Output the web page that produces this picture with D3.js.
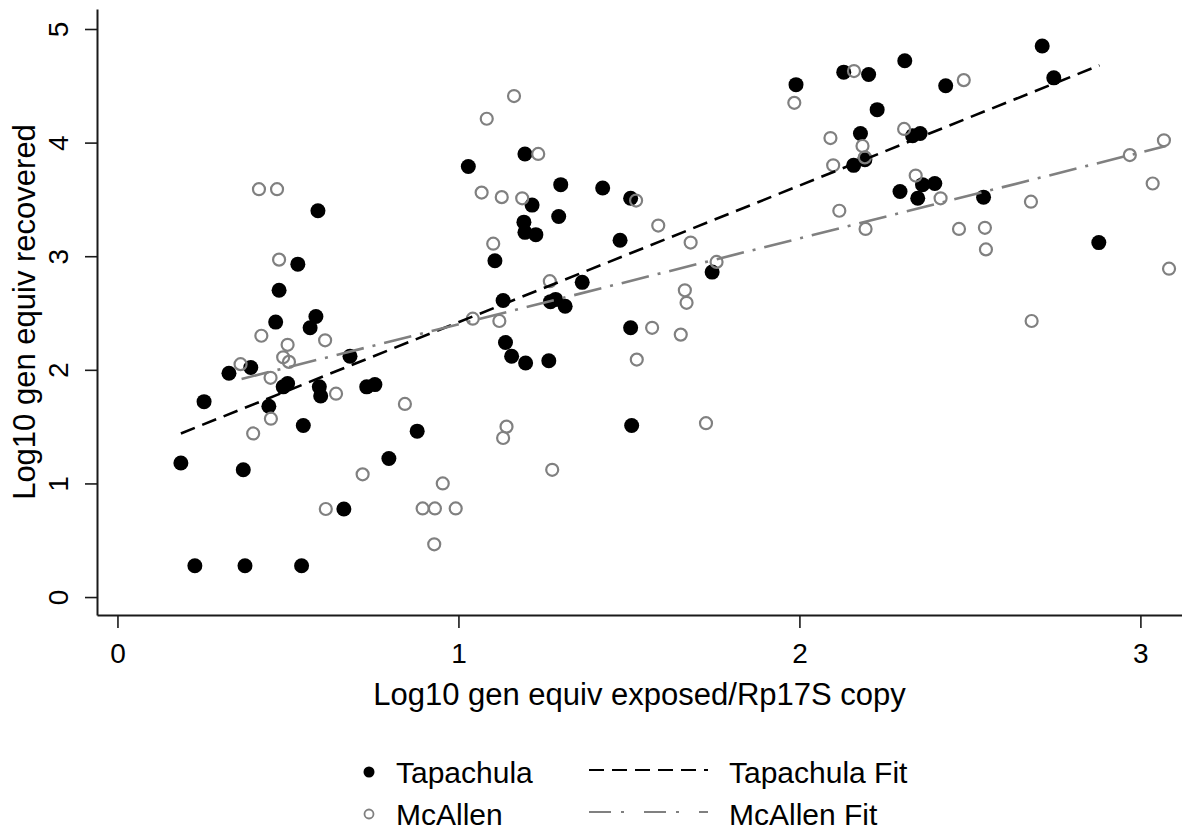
<!DOCTYPE html>
<html>
<head>
<meta charset="utf-8">
<script src="https://cdn.jsdelivr.net/npm/d3@7"></script>
<style>
  body { margin: 0; background: #fff; }
  svg { display: block; font-family: "Liberation Sans", Arial, sans-serif; }
</style>
</head>
<body>
<svg id="chart"></svg>
<script>
// Size of the picture
const width = 1182;
const height = 830;

// Tapachula points: [log10 exposed, log10 recovered]
const tapachula = [
  [0.588, 3.40], [0.529, 2.93], [0.474, 2.70], [0.464, 2.42], [0.582, 2.47],
  [0.565, 2.37], [0.682, 2.12], [0.391, 2.02], [0.327, 1.97], [0.486, 1.85],
  [0.499, 1.88], [0.592, 1.85], [0.596, 1.77], [0.731, 1.85], [0.755, 1.87],
  [0.254, 1.72], [0.444, 1.68], [0.545, 1.51], [0.186, 1.18], [0.369, 1.12],
  [0.796, 1.22], [0.664, 0.775], [0.227, 0.276], [0.374, 0.276], [0.540, 0.276],
  [0.879, 1.46], [1.508, 1.51], [1.505, 2.37], [1.138, 2.24], [1.156, 2.12],
  [1.197, 2.06], [1.265, 2.08], [1.131, 2.61], [1.270, 2.60], [1.285, 2.62],
  [1.313, 2.56], [1.363, 2.77], [1.195, 3.90], [1.029, 3.79], [1.216, 3.45],
  [1.300, 3.63], [1.423, 3.60], [1.505, 3.51], [1.294, 3.35], [1.192, 3.30],
  [1.195, 3.21], [1.227, 3.19], [1.474, 3.14], [1.107, 2.96], [1.744, 2.86],
  [2.712, 4.85], [2.746, 4.57], [2.309, 4.72], [2.130, 4.62], [2.203, 4.60],
  [1.990, 4.51], [2.429, 4.50], [2.228, 4.29], [2.179, 4.08], [2.332, 4.06],
  [2.354, 4.08], [2.192, 3.85], [2.159, 3.80], [2.361, 3.63], [2.397, 3.64],
  [2.295, 3.57], [2.347, 3.51], [2.540, 3.52], [2.878, 3.12]
];

// McAllen points
const mcallen = [
  [0.415, 3.59], [0.468, 3.59], [0.474, 2.97], [0.422, 2.30], [0.609, 2.26],
  [0.499, 2.22], [0.486, 2.11], [0.503, 2.07], [0.361, 2.05], [0.449, 1.93],
  [0.641, 1.79], [0.450, 1.57], [0.398, 1.44], [0.719, 1.08], [0.611, 0.775],
  [0.843, 1.70], [0.954, 1.00], [0.895, 0.78], [0.931, 0.78], [0.992, 0.78],
  [0.929, 0.464], [1.141, 1.50], [1.131, 1.40], [1.275, 1.12], [1.726, 1.53],
  [1.568, 2.37], [1.652, 2.31], [1.523, 2.09], [1.664, 2.70], [1.669, 2.59],
  [1.042, 2.45], [1.120, 2.43], [1.268, 2.78], [1.163, 4.41], [1.083, 4.21],
  [1.234, 3.90], [1.068, 3.56], [1.127, 3.52], [1.187, 3.51], [1.521, 3.49],
  [1.586, 3.27], [1.681, 3.12], [1.102, 3.11], [1.757, 2.95], [2.160, 4.63],
  [1.985, 4.35], [2.482, 4.55], [2.091, 4.04], [2.185, 3.97], [2.307, 4.12],
  [2.192, 3.87], [2.099, 3.80], [2.341, 3.71], [2.414, 3.51], [2.679, 3.48],
  [2.117, 3.40], [2.194, 3.24], [2.468, 3.24], [2.544, 3.25], [2.547, 3.06],
  [3.069, 4.02], [2.969, 3.89], [3.036, 3.64], [3.084, 2.89], [2.681, 2.43]
];

// Fitted lines (end points)
const tapachulaFit = [[0.186, 1.44], [2.880, 4.68]];
const mcallenFit = [[0.364, 1.92], [3.075, 3.97]];

// Ticks
const xTicks = [0, 1, 2, 3];
const yTicks = [0, 1, 2, 3, 4, 5];

const svg = d3.select("#chart")
    .attr("width", width)
    .attr("height", height);

const x = d3.scaleLinear().domain([-0.06, 3.122]).range([97, 1182]);
const y = d3.scaleLinear().domain([-0.158, 5.176]).range([615, 9]);

const black = "#000";
const grey = "#808080";

// Axes
const xAxis = svg.append("g")
    .attr("transform", `translate(0, ${y.range()[0]})`)
    .call(d3.axisBottom(x).tickValues(xTicks).tickSizeInner(13).tickSizeOuter(0)
        .tickPadding(15).tickFormat(d3.format("d")));
const yAxis = svg.append("g")
    .attr("transform", `translate(${x.range()[0]}, 0)`)
    .call(d3.axisLeft(y).tickValues(yTicks).tickSizeInner(12).tickSizeOuter(0)
        .tickPadding(0).tickFormat(d3.format("d")));

[xAxis, yAxis].forEach(g => {
    g.select(".domain").attr("stroke", "#1a1a1a").attr("stroke-width", 2);
    g.selectAll(".tick line").attr("stroke", "#1a1a1a").attr("stroke-width", 1.6);
    g.selectAll(".tick text").attr("font-size", 28).attr("fill", "#000")
        .attr("font-family", "Liberation Sans, Arial, sans-serif");
});
// Stata style: y tick labels run vertically
yAxis.selectAll(".tick text")
    .attr("x", 0)
    .attr("text-anchor", "middle")
    .attr("transform", "translate(-39, 0) rotate(-90)")
    .attr("dy", "0.36em");

// Axis titles
svg.append("text")
    .attr("x", (x.range()[0] + x.range()[1]) / 2)
    .attr("y", 705)
    .attr("text-anchor", "middle")
    .attr("font-size", 31)
    .text("Log10 gen equiv exposed/Rp17S copy");

svg.append("text")
    .attr("transform", `translate(35, ${(y.range()[0] + y.range()[1]) / 2}) rotate(-90)`)
    .attr("text-anchor", "middle")
    .attr("font-size", 31)
    .text("Log10 gen equiv recovered");

// Points
svg.append("g").selectAll("circle")
    .data(tapachula)
    .enter().append("circle")
    .attr("cx", d => x(d[0]))
    .attr("cy", d => y(d[1]))
    .attr("r", 7.5)
    .attr("fill", black);

svg.append("g").selectAll("circle")
    .data(mcallen)
    .enter().append("circle")
    .attr("cx", d => x(d[0]))
    .attr("cy", d => y(d[1]))
    .attr("r", 6)
    .attr("fill", "none")
    .attr("stroke", grey)
    .attr("stroke-width", 2.2);

// Fit lines
const line = d3.line().x(d => x(d[0])).y(d => y(d[1]));
const tapDash = "15,8";
const mcaDash = "28,9,3,9";

svg.append("path")
    .attr("d", line(tapachulaFit))
    .attr("fill", "none")
    .attr("stroke", black)
    .attr("stroke-width", 2.6)
    .attr("stroke-dasharray", tapDash);

svg.append("path")
    .attr("d", line(mcallenFit))
    .attr("fill", "none")
    .attr("stroke", grey)
    .attr("stroke-width", 2.6)
    .attr("stroke-dasharray", mcaDash);

// Legend
const legend = svg.append("g").attr("font-size", 30);
const rows = [772, 814];

legend.append("circle").attr("cx", 369).attr("cy", rows[0]).attr("r", 5.5).attr("fill", black);
legend.append("circle").attr("cx", 369).attr("cy", rows[1]).attr("r", 4.5)
    .attr("fill", "none").attr("stroke", grey).attr("stroke-width", 1.8);
legend.append("text").attr("x", 396).attr("y", rows[0]).attr("dy", "0.36em").text("Tapachula");
legend.append("text").attr("x", 396).attr("y", rows[1]).attr("dy", "0.36em").text("McAllen");

legend.append("line").attr("x1", 589).attr("x2", 708).attr("y1", rows[0] - 2).attr("y2", rows[0] - 2)
    .attr("stroke", black).attr("stroke-width", 2).attr("stroke-dasharray", tapDash);
legend.append("line").attr("x1", 589).attr("x2", 708).attr("y1", rows[1] - 2).attr("y2", rows[1] - 2)
    .attr("stroke", grey).attr("stroke-width", 2).attr("stroke-dasharray", "22,10,3,20");
legend.append("text").attr("x", 729).attr("y", rows[0]).attr("dy", "0.36em").text("Tapachula Fit");
legend.append("text").attr("x", 729).attr("y", rows[1]).attr("dy", "0.36em").text("McAllen Fit");
</script>
</body>
</html>
